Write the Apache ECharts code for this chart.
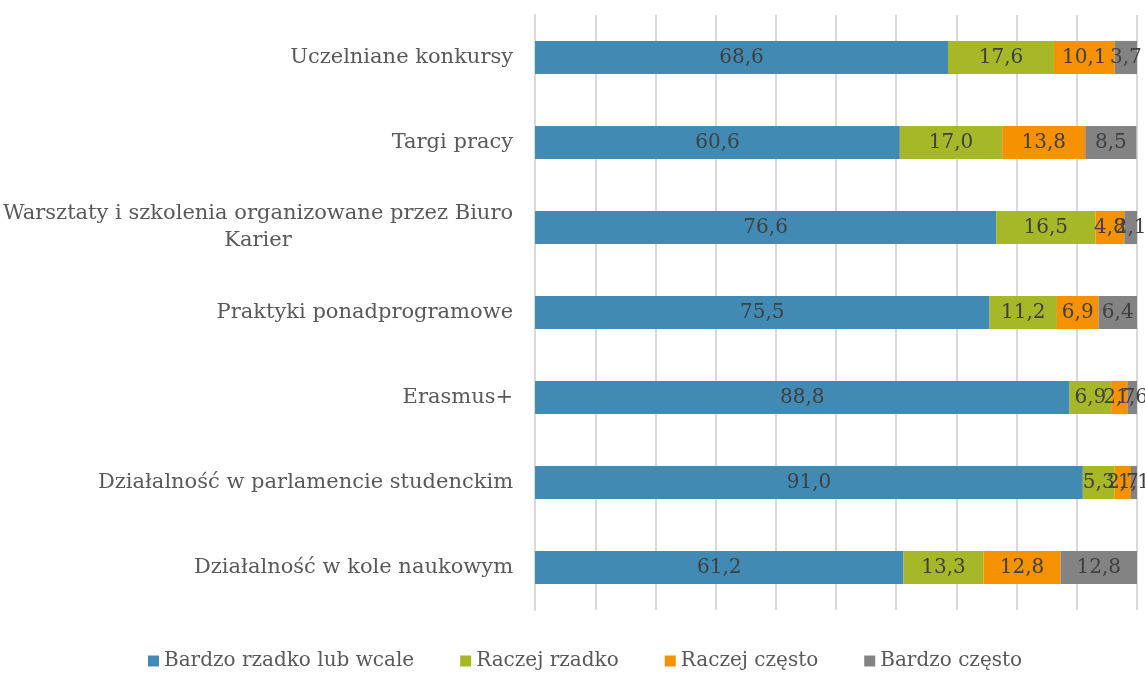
<!DOCTYPE html>
<html>
<head>
<meta charset="utf-8">
<script src="https://cdn.jsdelivr.net/npm/echarts@6/dist/echarts.min.js"></script>
<style>
  html, body { margin: 0; padding: 0; background: #fff; }
  #chart { width: 1145px; height: 673px; }
</style>
</head>
<body>
<div id="chart"></div>
<script>
// kategorie (od góry)
var categories = [
    'Uczelniane konkursy',
    'Targi pracy',
    'Warsztaty i szkolenia organizowane przez Biuro\nKarier',
    'Praktyki ponadprogramowe',
    'Erasmus+',
    'Działalność w parlamencie studenckim',
    'Działalność w kole naukowym'
];

var seriesNames = ['Bardzo rzadko lub wcale', 'Raczej rzadko', 'Raczej często', 'Bardzo często'];

var bardzoRzadko = [68.6, 60.6, 76.6, 75.5, 88.8, 91.0, 61.2];
var raczejRzadko = [17.6, 17.0, 16.5, 11.2, 6.9, 5.3, 13.3];
var raczejCzesto = [10.1, 13.8, 4.8, 6.9, 2.7, 2.7, 12.8];
var bardzoCzesto = [3.7, 8.5, 2.1, 6.4, 1.6, 1.1, 12.8];

var colors = ['#418AB3', '#A6B727', '#F69200', '#838383'];
var FONT = '"DejaVu Serif", serif';

var chart = echarts.init(document.getElementById('chart'));

function makeSeries(name, data, color) {
    return {
        type: 'bar',
        name: name,
        stack: 'all',
        data: data,
        barCategoryGap: '61%',
        itemStyle: { color: color },
        label: {
            show: true,
            position: 'inside',
            color: '#404040',
            fontFamily: FONT,
            fontSize: 20,
            formatter: function (p) {
                return p.value.toFixed(1).replace('.', ',');
            }
        }
    };
}

var option = {
    animation: false,
    color: colors,
    grid: { left: 534, right: 8, top: 15, bottom: 63 },
    legend: {
        top: 646,
        left: 143,
        itemWidth: 11,
        itemHeight: 11,
        itemGap: 46,
        icon: 'rect',
        data: seriesNames,
        textStyle: { color: '#595959', fontFamily: FONT, fontSize: 20 }
    },
    xAxis: {
        type: 'value',
        min: 0,
        max: 100,
        interval: 10,
        axisLine: { show: false },
        axisTick: { show: false },
        axisLabel: { show: false },
        splitLine: { lineStyle: { color: '#d9d9d9', width: 2 } }
    },
    yAxis: {
        type: 'category',
        inverse: true,
        data: categories,
        axisLine: { lineStyle: { color: '#d9d9d9', width: 2 } },
        axisTick: { length: 9, lineStyle: { color: '#d9d9d9', width: 2 } },
        axisLabel: {
            margin: 22,
            color: '#595959',
            fontFamily: FONT,
            fontSize: 21,
            lineHeight: 27,
            formatter: function (v) {
                return v.split('\n').map(function (s) { return '{c|' + s + '}'; }).join('\n');
            },
            rich: {
                c: { align: 'center', color: '#595959', fontFamily: FONT, fontSize: 21, lineHeight: 27 }
            }
        }
    },
    series: [
        makeSeries(seriesNames[0], bardzoRzadko, colors[0]),
        makeSeries(seriesNames[1], raczejRzadko, colors[1]),
        makeSeries(seriesNames[2], raczejCzesto, colors[2]),
        makeSeries(seriesNames[3], bardzoCzesto, colors[3])
    ]
};

chart.setOption(option);
</script>
</body>
</html>
